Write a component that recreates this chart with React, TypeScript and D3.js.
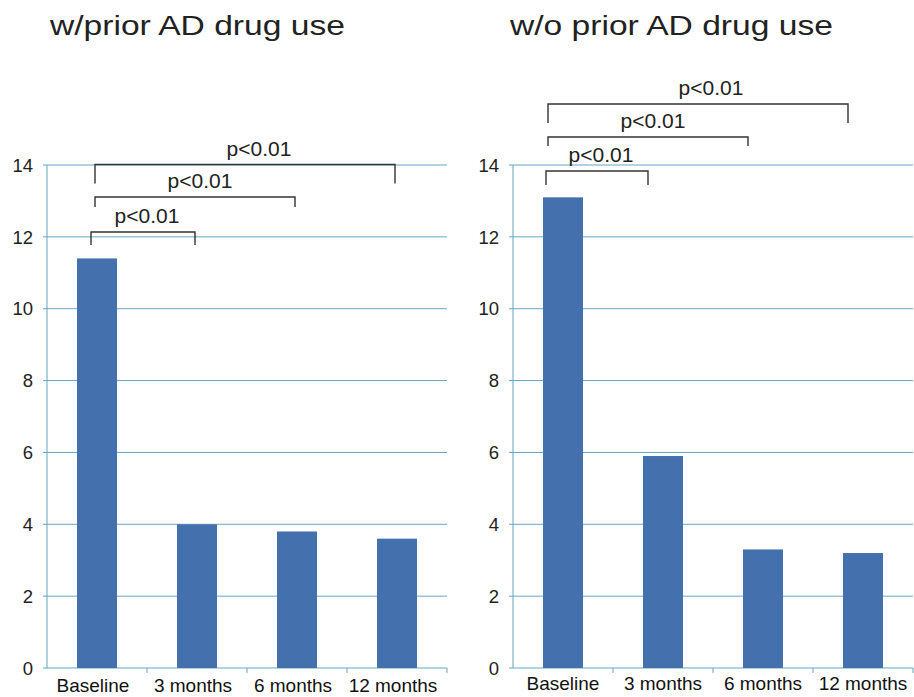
import React from "react";
import * as d3 from "d3";

// Categories and series values
const categories = ["Baseline", "3 months", "6 months", "12 months"];
const withPrior = [11.4, 4.0, 3.8, 3.6];
const withoutPrior = [13.1, 5.9, 3.3, 3.2];
const yTicks = [0, 2, 4, 6, 8, 10, 12, 14];
const panelTitles = ["w/prior AD drug use", "w/o prior AD drug use"];
// Each comparison runs from Baseline to the named category
const comparisonTargets = ["3 months", "6 months", "12 months"];
const comparisonLabels = ["p<0.01", "p<0.01", "p<0.01"];

const W = 914;
const H = 697;
const GRID = "#62a7c0";
const BAR = "#4471ad";
const INK = "#222";

type Bracket = { y: number; drop: number; dx: number; tx: number };

const panels = [
  {
    title: panelTitles[0],
    values: withPrior,
    x0: 47,
    titleX: 50,
    labelShift: -4,
    labelY: 692,
    bracketShift: -2,
    brackets: [
      { y: 232, drop: 13, dx: -4, tx: 4 },
      { y: 197, drop: 10, dx: 0, tx: 5 },
      { y: 164.5, drop: 19, dx: 0, tx: 14 },
    ] as Bracket[],
  },
  {
    title: panelTitles[1],
    values: withoutPrior,
    x0: 513,
    titleX: 510,
    labelShift: 0,
    labelY: 690,
    bracketShift: -15,
    brackets: [
      { y: 171, drop: 14, dx: -2, tx: 4 },
      { y: 137, drop: 9, dx: 0, tx: 5 },
      { y: 104, drop: 19, dx: 0, tx: 13 },
    ] as Bracket[],
  },
];

const y = d3.scaleLinear().domain([0, 14]).range([668, 165]);

function Panel({ p }: { p: (typeof panels)[number] }) {
  const x = d3
    .scaleBand<string>()
    .domain(categories)
    .range([p.x0, p.x0 + 400])
    .paddingInner(0.6)
    .paddingOuter(0.3);
  const step = x.step();
  const center = (c: string) => (x(c) as number) + x.bandwidth() / 2;
  const baseX = center(categories[0]) + p.bracketShift;

  return (
    <g>
      <text
        transform={`translate(${p.titleX},35) scale(1.2,1)`}
        fontFamily="'Liberation Sans', Arial, sans-serif"
        fontSize={28}
        fill={INK}
      >
        {p.title}
      </text>

      {yTicks.map((t) => (
        <g key={t}>
          <line
            x1={p.x0 - 4}
            x2={p.x0 + 400}
            y1={y(t)}
            y2={y(t)}
            stroke={GRID}
            strokeWidth={1}
          />
          <text
            x={p.x0 - 14}
            y={y(t)}
            dy="0.36em"
            textAnchor="end"
            fontFamily="'Liberation Sans', Arial, sans-serif"
            fontSize={18.5}
            fill={INK}
          >
            {t}
          </text>
        </g>
      ))}

      <line x1={p.x0} x2={p.x0} y1={y(14)} y2={y(0)} stroke={GRID} strokeWidth={1} />
      {d3.range(1, 5).map((k) => (
        <line
          key={k}
          x1={p.x0 + k * step}
          x2={p.x0 + k * step}
          y1={y(0)}
          y2={y(0) + 5}
          stroke={GRID}
          strokeWidth={1}
        />
      ))}

      {categories.map((c, i) => (
        <rect
          key={c}
          x={x(c)}
          y={y(p.values[i])}
          width={x.bandwidth()}
          height={y(0) - y(p.values[i])}
          fill={BAR}
        />
      ))}

      {categories.map((c) => (
        <text
          key={c}
          x={center(c) + p.labelShift}
          y={p.labelY}
          textAnchor="middle"
          fontFamily="'Liberation Sans', Arial, sans-serif"
          fontSize={19}
          fill="#111"
        >
          {c}
        </text>
      ))}

      {comparisonTargets.map((target, i) => {
        const b = p.brackets[i];
        const x1 = baseX + b.dx;
        const x2 = center(target) + p.bracketShift;
        return (
          <g key={target}>
            <path
              d={`M${x1},${b.y + b.drop}V${b.y}H${x2}V${b.y + b.drop}`}
              fill="none"
              stroke="#333"
              strokeWidth={1.4}
            />
            <text
              x={(x1 + x2) / 2 + b.tx}
              y={b.y - 9}
              textAnchor="middle"
              fontFamily="'Liberation Sans', Arial, sans-serif"
              fontSize={21}
              fill={INK}
            >
              {comparisonLabels[i]}
            </text>
          </g>
        );
      })}
    </g>
  );
}

export default function App() {
  return (
    <svg
      width={W}
      height={H}
      viewBox={`0 0 ${W} ${H}`}
      style={{ position: "absolute", left: 0, top: 0, background: "#fff" }}
    >
      <rect width={W} height={H} fill="#fff" />
      {panels.map((p) => (
        <Panel key={p.title} p={p} />
      ))}
    </svg>
  );
}
